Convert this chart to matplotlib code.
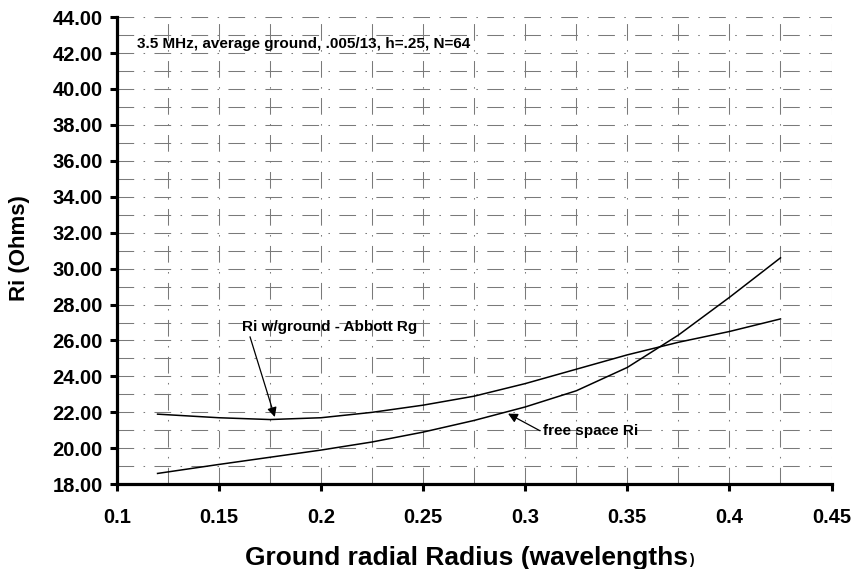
import matplotlib.pyplot as plt
import numpy as np

# ground radial radius in wavelengths
radius = [0.12, 0.15, 0.175, 0.2, 0.225, 0.25, 0.275, 0.3, 0.325, 0.35, 0.375, 0.4, 0.425]
# Ri with ground (Abbott Rg), ohms
ri_ground = [21.9, 21.7, 21.6, 21.7, 22.0, 22.4, 22.9, 23.6, 24.4, 25.2, 25.9, 26.5, 27.2]
# free space Ri, ohms
ri_free = [18.6, 19.1, 19.5, 19.9, 20.35, 20.9, 21.55, 22.3, 23.2, 24.5, 26.3, 28.4, 30.6]

x_ticks = [0.1, 0.15, 0.2, 0.25, 0.3, 0.35, 0.4, 0.45]
x_ticklabels = ['0.1', '0.15', '0.2', '0.25', '0.3', '0.35', '0.4', '0.45']
y_ticks = np.arange(18, 45, 2)

title_txt = '3.5 MHz, average ground, .005/13, h=.25, N=64'


def main():
    plt.rcParams['font.family'] = ['Liberation Sans', 'DejaVu Sans']
    fig = plt.figure(figsize=(8.52, 5.69), dpi=100)
    ax = fig.add_axes([0.137, 0.149, 0.839, 0.821])

    ax.set_xlim(0.1, 0.45)
    ax.set_ylim(18, 44)

    # broken dash-dot grid, one line per ohm and per 0.025 wavelength
    grid_style = dict(color='0.48', lw=0.75, ls=(0, (16, 9, 1.5, 9)), zorder=0)
    for yv in np.arange(19, 45, 1):
        ax.axhline(yv, **grid_style)
    for xv in np.arange(0.125, 0.451, 0.025):
        ax.axvline(xv, **grid_style)

    ax.plot(radius, ri_ground, color='black', lw=1.1, zorder=3)
    ax.plot(radius, ri_free, color='black', lw=1.1, zorder=3)

    for s in ['top', 'right']:
        ax.spines[s].set_visible(False)
    for s in ['left', 'bottom']:
        ax.spines[s].set_linewidth(2.3)

    ax.set_xticks(x_ticks)
    ax.set_xticklabels(x_ticklabels)
    ax.set_yticks(y_ticks)
    ax.set_yticklabels(['%.2f' % v for v in y_ticks])
    ax.tick_params(axis='both', direction='out', length=5, width=2.2, color='black')
    ax.tick_params(axis='y', pad=5)
    ax.tick_params(axis='x', pad=12)
    for lbl in ax.get_yticklabels():
        lbl.set_fontsize(14.5)
        lbl.set_fontweight('bold')
    for lbl in ax.get_xticklabels():
        lbl.set_fontsize(14.5)
        lbl.set_fontweight('bold')

    ax.set_ylabel('Ri (Ohms)', fontsize=16, fontweight='bold', va='center')
    ax.yaxis.set_label_coords(-0.136, 0.505)
    ax.set_xlabel('Ground radial Radius (wavelengths', fontsize=19,
                  fontweight='bold', va='center')
    ax.xaxis.set_label_coords(0.49, -0.158)

    ax.text(0.11, 42.5, title_txt, fontsize=11, fontweight='bold', va='center')

    ax.annotate('Ri w/ground - Abbott Rg', xy=(0.1774, 21.74), xytext=(0.1612, 26.75),
                fontsize=11, fontweight='bold', va='center', ha='left',
                arrowprops=dict(arrowstyle='-|>', color='black', lw=0.9,
                                mutation_scale=14, shrinkA=0, shrinkB=0,
                                relpos=(0.04, 0.1)))
    ax.annotate('free space Ri', xy=(0.2916, 21.93), xytext=(0.3086, 20.95),
                fontsize=11, fontweight='bold', va='center', ha='left',
                arrowprops=dict(arrowstyle='-|>', color='black', lw=0.9,
                                mutation_scale=14, shrinkA=0, shrinkB=0,
                                relpos=(-0.02, 0.5)))

    # small closing bracket after the x label
    fig.canvas.draw()
    bb = ax.xaxis.label.get_window_extent()
    fig.text((bb.x1 + 1) / fig.bbox.width, (bb.y0 + 3) / fig.bbox.height, ')',
             fontsize=10, fontweight='bold', va='bottom', ha='left')

    plt.savefig('out.png', dpi=100)


if __name__ == "__main__":
    main()
